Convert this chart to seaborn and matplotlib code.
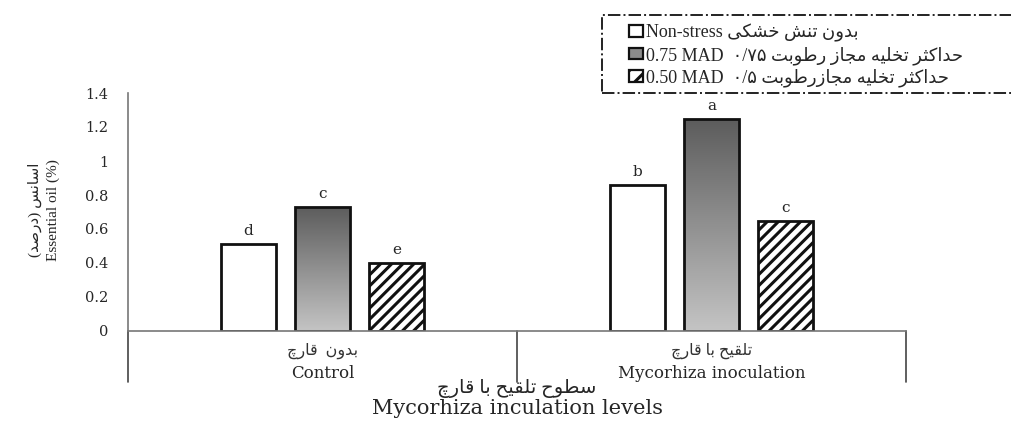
import matplotlib
matplotlib.use("Agg")
import matplotlib.pyplot as plt
from matplotlib.patches import Patch, Rectangle
from matplotlib.colors import LinearSegmentedColormap
import seaborn as sns
import numpy as np
import pandas as pd

# ---- data ----
groups = ["Control", "Mycorhiza inoculation"]
groups_fa = ["بدون  قارچ", "تلقیح با قارچ"]
treatments = ["Non-stress", "0.75 MAD", "0.50 MAD"]
control_vals = [0.51, 0.73, 0.40]
myco_vals = [0.86, 1.25, 0.65]
control_letters = ["d", "c", "e"]
myco_letters = ["b", "a", "c"]

# Persian text has to be shaped by hand (matplotlib does no Arabic shaping / bidi)
FORMS = {
    "ا": ("\ufe8d", "\ufe8e", None, None),
    "ب": ("\ufe8f", "\ufe90", "\ufe91", "\ufe92"),
    "ت": ("\ufe95", "\ufe96", "\ufe97", "\ufe98"),
    "ث": ("\ufe99", "\ufe9a", "\ufe9b", "\ufe9c"),
    "ج": ("\ufe9d", "\ufe9e", "\ufe9f", "\ufea0"),
    "چ": ("\ufb7a", "\ufb7b", "\ufb7c", "\ufb7d"),
    "ح": ("\ufea1", "\ufea2", "\ufea3", "\ufea4"),
    "خ": ("\ufea5", "\ufea6", "\ufea7", "\ufea8"),
    "د": ("\ufea9", "\ufeaa", None, None),
    "ر": ("\ufead", "\ufeae", None, None),
    "ز": ("\ufeaf", "\ufeb0", None, None),
    "س": ("\ufeb1", "\ufeb2", "\ufeb3", "\ufeb4"),
    "ش": ("\ufeb5", "\ufeb6", "\ufeb7", "\ufeb8"),
    "ص": ("\ufeb9", "\ufeba", "\ufebb", "\ufebc"),
    "ط": ("\ufec1", "\ufec2", "\ufec3", "\ufec4"),
    "ق": ("\ufed5", "\ufed6", "\ufed7", "\ufed8"),
    "ک": ("\ufb8e", "\ufb8f", "\ufb90", "\ufb91"),
    "ل": ("\ufedd", "\ufede", "\ufedf", "\ufee0"),
    "م": ("\ufee1", "\ufee2", "\ufee3", "\ufee4"),
    "ن": ("\ufee5", "\ufee6", "\ufee7", "\ufee8"),
    "ه": ("\ufee9", "\ufeea", "\ufeeb", "\ufeec"),
    "و": ("\ufeed", "\ufeee", None, None),
    "ی": ("\ufbfc", "\ufbfd", "\ufbfe", "\ufbff"),
}
MIRROR = {"(": ")", ")": "("}


def fa(text):
    out = []
    for i, ch in enumerate(text):
        if ch not in FORMS:
            out.append(MIRROR.get(ch, ch))
            continue
        prev = text[i - 1] if i > 0 else ""
        nxt = text[i + 1] if i + 1 < len(text) else ""
        joins_prev = prev in FORMS and FORMS[prev][2] is not None
        joins_next = FORMS[ch][2] is not None and nxt in FORMS
        iso, fin, ini, med = FORMS[ch]
        if joins_prev and joins_next:
            out.append(med)
        elif joins_prev:
            out.append(fin)
        elif joins_next:
            out.append(ini)
        else:
            out.append(iso)
    return "".join(out[::-1])


legend_labels = [
    "Non-stress " + fa("بدون تنش خشکی"),
    "0.75 MAD  ۰/۷۵ " + fa("حداکثر تخلیه مجاز رطوبت"),
    "0.50 MAD  ۰/۵ " + fa("حداکثر تخلیه مجازرطوبت"),
]

df = pd.DataFrame({
    "group": groups * 3,
    "treatment": np.repeat(treatments, 2),
    "value": [control_vals[0], myco_vals[0], control_vals[1], myco_vals[1],
              control_vals[2], myco_vals[2]],
})
letters = {("Control", t): l for t, l in zip(treatments, control_letters)}
letters.update({("Mycorhiza inoculation", t): l for t, l in zip(treatments, myco_letters)})

sns.set_style("white")
WIDE = ["DejaVu Serif"]                       # latin-only horizontal text (looks stretched in the original)
PERS = ["Liberation Serif", "DejaVu Sans"]    # anything holding Persian
plt.rcParams["font.family"] = WIDE
plt.rcParams["hatch.linewidth"] = 2.2

fig = plt.figure(figsize=(10.11, 4.21), dpi=100)
ax = fig.add_axes([128 / 1011, 90 / 421, 778 / 1011, 238 / 421])

sns.barplot(data=df, x="group", y="value", hue="treatment", order=groups,
            hue_order=treatments, width=0.57, gap=0.26,
            palette=["white", "#8c8c8c", "white"], edgecolor="#111111",
            linewidth=2, legend=False, ax=ax)

# style each hue: gradient for the gray bars, hatch for the 0.50 bars
bar_patches = ax.patches[:6]
grad = np.linspace(0, 1, 256).reshape(-1, 1)
gray_cmap = LinearSegmentedColormap.from_list("g", ["#5c5c5c", "#c4c4c4"])
for i, p in enumerate(bar_patches):
    t = treatments[i // 2]
    g = groups[i % 2]
    x0, w, h = p.get_x(), p.get_width(), p.get_height()
    if t == "0.75 MAD":
        p.set_facecolor("none")
        im = ax.imshow(grad, cmap=gray_cmap, extent=[x0, x0 + w, 0, h],
                       aspect="auto", zorder=0.5, origin="upper")
        im.set_clip_path(p)
    elif t == "0.50 MAD":
        p.set_hatch("///")
    ax.text(x0 + w / 2, h + 0.035, letters[(g, t)], ha="center", va="bottom",
            fontsize=11)

ax.set_ylim(0, 1.4)
ax.set_xlim(-0.5, 1.5)
ax.set_yticks(np.arange(0, 1.41, 0.2))
ax.set_yticklabels(["0", "0.2", "0.4", "0.6", "0.8", "1", "1.2", "1.4"])
ax.tick_params(axis="y", length=0, pad=14, labelsize=10.5)
ax.set_xticks([])
ax.set_xlabel("")
ax.set_ylabel("")
for s in ["top", "right"]:
    ax.spines[s].set_visible(False)
for s in ["left", "bottom"]:
    ax.spines[s].set_color("#777777")
    ax.spines[s].set_linewidth(1.2)

# category dividers below the axis and group labels
for xv in [-0.5, 0.5, 1.5]:
    ax.plot([xv, xv], [0, -0.3], color="#444444", lw=1.2, clip_on=False)
for i, g in enumerate(groups):
    ax.text(i, -0.115, fa(groups_fa[i]), ha="center", va="center", fontsize=11.5,
            color="#333333", family=PERS)
    ax.text(i, -0.25, g, ha="center", va="center", fontsize=12)

fig.text(517 / 1011, 1 - 389 / 421, fa("سطوح تلقیح با قارچ"), ha="center",
         va="center", fontsize=14, family=PERS)
fig.text(517 / 1011, 1 - 409 / 421, "Mycorhiza inculation levels", ha="center",
         va="center", fontsize=15)
fig.text(44 / 1011, 1 - 210 / 421, fa("اسانس (درصد)") + "\n" + "Essential oil (%)",
         rotation=90, ha="center", va="center", fontsize=11, linespacing=1.4,
         family=PERS)

# dash-dot legend box, running off the right edge like the original
fig.patches.append(Rectangle((602 / 1011, 1 - 93 / 421), 0.45, 78 / 421,
                             transform=fig.transFigure, fill=False,
                             edgecolor="#222222", linestyle="-.", linewidth=1.4))
handles = [
    Patch(facecolor="white", edgecolor="#111111", linewidth=1.6),
    Patch(facecolor="#8c8c8c", edgecolor="#111111", linewidth=1.6),
    Patch(facecolor="white", edgecolor="#111111", linewidth=1.6, hatch="//"),
]
fig.legend(handles, legend_labels, loc="upper left",
           bbox_to_anchor=(627 / 1011, 1 - 22 / 421),
           prop={"family": PERS, "size": 13},
           handlelength=0.78, handleheight=0.6, handletextpad=0.15,
           labelspacing=0.22, borderpad=0.1, borderaxespad=0, frameon=False)

fig.savefig("out.png", dpi=100)
